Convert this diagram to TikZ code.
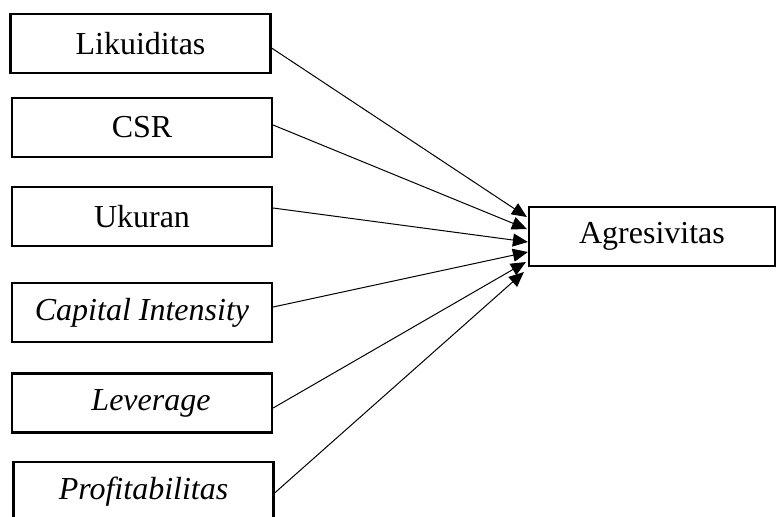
\documentclass[tikz,border=0pt]{standalone}
\usepackage{fontspec}
\setmainfont{Liberation Serif}
\usetikzlibrary{arrows.meta,calc}
\tikzset{
  varbox/.style={draw, line width=1.1pt, inner sep=0pt, minimum width=130pt, minimum height=29.5pt, font=\fontsize{16}{19}\selectfont},
  conn/.style={line width=0.5pt, -{Triangle[length=7.5pt,width=6.5pt]}}
}
\begin{document}
\begin{tikzpicture}[x=0.5pt,y=-0.5pt]
\useasboundingbox (0,0) rectangle (776,516);
\clip (0,0) rectangle (776,516);
\node[varbox] (lik) at (140.5,43.5) {Likuiditas};
\node[varbox] (csr) at (142,127.5) {CSR};
\node[varbox] (uku) at (142,216.5) {Ukuran};
\node[varbox] (cap) at (142,312.5) {\textit{Capital Intensity}};
\node[varbox] (lev) at (142,403) {\hspace{9pt}\textit{Leverage}};
\node[varbox] (pro) at (143.5,491.5) {\textit{Profitabilitas}};
\node[varbox, minimum width=123pt] (agr) at (652,236.5) {Agresivitas};
\draw[conn] ($(lik.east)+(0,4.5)$) -- ($(agr.west)+(-1,-19.5)$);
\draw[conn] ($(csr.east)+(0,-2.5)$) -- ($(agr.west)+(-1,-7.5)$);
\draw[conn] ($(uku.east)+(0,-8.5)$) -- ($(agr.west)+(0,5.5)$);
\draw[conn] ($(cap.east)+(0,-5.5)$) -- ($(agr.west)+(0,15.5)$);
\draw[conn] ($(lev.east)+(0,5)$) -- ($(agr.west)+(-2,25.5)$);
\draw[conn] ($(pro.east)+(0,1.5)$) -- ($(agr.west)+(-4,35.5)$);
\end{tikzpicture}
\end{document}
